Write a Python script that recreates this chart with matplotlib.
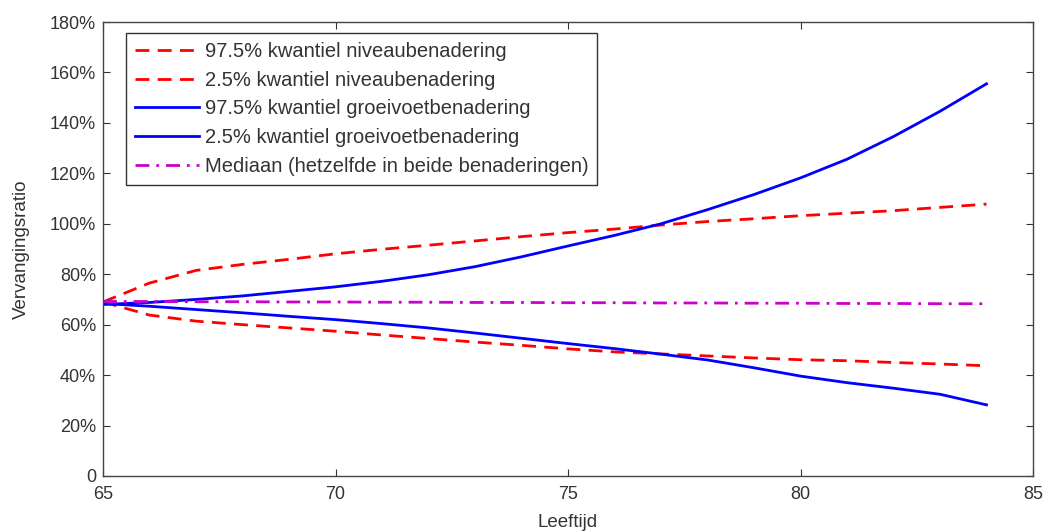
import matplotlib
matplotlib.use("Agg")
from matplotlib import pyplot as plt
from matplotlib.ticker import FuncFormatter

# leeftijd 65..84
ages = list(range(65, 85))

niveau_hoog = [69, 76.5, 81.5, 83.9, 85.9, 88.1, 89.9, 91.5, 93.2, 94.9,
               96.5, 97.9, 99.5, 100.9, 102, 103.2, 104.2, 105.2, 106.5, 107.8]
niveau_laag = [69, 63.8, 61.4, 60, 58.7, 57.4, 55.9, 54.5, 53.1, 51.8,
               50.4, 49.2, 48.4, 47.6, 46.8, 46.1, 45.7, 45, 44.4, 43.7]
groei_hoog = [68, 68.8, 70, 71.4, 73.2, 75, 77.2, 79.8, 83, 86.9,
              91.2, 95.4, 100, 105.6, 111.6, 118.2, 125.6, 134.6, 144.6, 155.5]
groei_laag = [68.4, 67.3, 66, 64.7, 63.3, 62, 60.4, 58.7, 56.7, 54.6,
              52.5, 50.5, 48.3, 46, 42.9, 39.6, 37, 34.8, 32.4, 28.2]
mediaan = [69.2, 69.2, 69.1, 69.1, 69.0, 69.0, 68.9, 68.9, 68.8, 68.8,
           68.7, 68.7, 68.6, 68.6, 68.5, 68.5, 68.4, 68.4, 68.3, 68.3]

labels = ["97.5% kwantiel niveaubenadering",
          "2.5% kwantiel niveaubenadering",
          "97.5% kwantiel groeivoetbenadering",
          "2.5% kwantiel groeivoetbenadering",
          "Mediaan (hetzelfde in beide benaderingen)"]

plt.rcParams['font.family'] = ['Liberation Sans', 'DejaVu Sans']

fig = plt.figure(figsize=(10.48, 5.32), dpi=100)
ax = fig.add_axes([0.0983, 0.1053, 0.8874, 0.8533])

lw = 2.0
dash = (0, (5, 3))
ax.plot(ages, niveau_hoog, color='#ff0000', ls=dash, lw=lw, label=labels[0])
ax.plot(ages, niveau_laag, color='#ff0000', ls=dash, lw=lw, label=labels[1])
ax.plot(ages, groei_hoog, color='#0000ff', ls='-', lw=lw, label=labels[2])
ax.plot(ages, groei_laag, color='#0000ff', ls='-', lw=lw, label=labels[3])
ax.plot(ages, mediaan, color='#cc00cc', ls=(0, (5, 2.5, 1, 2.5)), lw=lw, label=labels[4])

ax.set_xlim(65, 85)
ax.set_ylim(0, 180)
ax.set_xticks(range(65, 86, 5))
ax.set_yticks(range(0, 181, 20))
ax.yaxis.set_major_formatter(FuncFormatter(lambda v, p: '0' if v == 0 else '%d%%' % v))
ax.tick_params(direction='in', top=True, right=True, labelsize=13, length=5,
               colors='#333333', labelcolor='#333333')
ax.tick_params(axis='x', pad=7)
ax.tick_params(axis='y', pad=5)
for s in ax.spines.values():
    s.set_color('#444444')
    s.set_linewidth(1.0)

ax.set_xlabel('Leeftijd', fontsize=13.5, color='#333333', labelpad=8)
ax.set_ylabel('Vervangingsratio', fontsize=13.5, color='#333333', labelpad=14)

leg = ax.legend(loc='upper left', bbox_to_anchor=(0.0247, 0.976), fontsize=14.5,
                handlelength=3.2, handletextpad=0.25, labelspacing=0.48,
                borderpad=0.45, borderaxespad=0, fancybox=False, framealpha=1)
leg.get_frame().set_edgecolor('#333333')
leg.get_frame().set_linewidth(1.0)
for t in leg.get_texts():
    t.set_color('#333333')

fig.savefig('out.png', dpi=100)
